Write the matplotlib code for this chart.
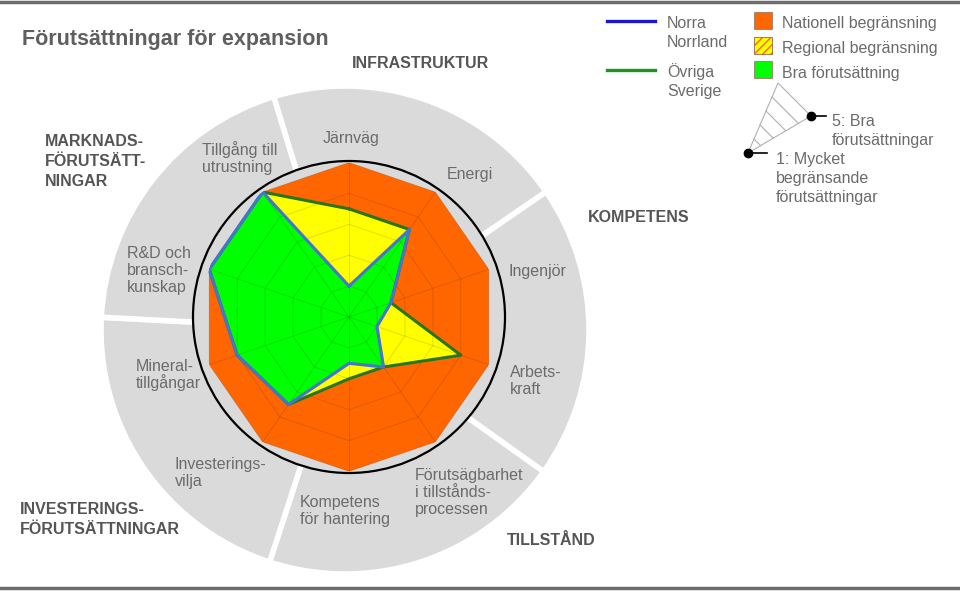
import numpy as np
import matplotlib.pyplot as plt
from matplotlib.patches import Wedge, Circle, Rectangle, Polygon

plt.rcParams['font.family'] = ['Liberation Sans', 'DejaVu Sans']

# --- data (radar, clockwise from top) ---
factors = ['Järnväg', 'Energi', 'Ingenjör', 'Arbets-\nkraft',
           'Förutsägbarhet\ni tillstånds-\nprocessen', 'Kompetens\nför hantering',
           'Investerings-\nvilja', 'Mineral-\ntillgångar',
           'R&D och\nbransch-\nkunskap', 'Tillgång till\nutrustning']
norra_norrland = [1, 3.5, 1.5, 1, 2, 1.5, 3.5, 4, 5, 5]
ovriga_sverige = [3.5, 3.5, 1.5, 4, 2, 2, 3.5, 4, 5, 5]
max_level = 5

groups = ['INFRASTRUKTUR', 'KOMPETENS', 'TILLSTÅND',
          'INVESTERINGS-\nFÖRUTSÄTTNINGAR', 'MARKNADS-\nFÖRUTSÄTT-\nNINGAR']

# --- layout (pixels, y down) ---
W, H = 960, 592
cx, cy = 349, 317          # radar centre
rx, ry = 147, 154.5        # radius of level 5, horizontal / vertical
pie_c, pie_r = (345, 330), 244
group_edges = [107, 34.5, -35.5, -108, -183, -253]   # visual degrees, ccw from +x
factor_pos = [(351, 137, 'center'), (470, 173, 'center'), (509, 270, 'left'),
              (510, 371, 'left'), (415, 474, 'left'), (300, 501, 'left'),
              (175, 463, 'left'), (136, 365, 'left'), (127, 252, 'left'),
              (202, 149, 'left')]
group_pos = [(352, 62), (588, 216), (507, 539), (20, 508), (45, 140)]

TXT = '#6b6b6b'
HEAD = '#555555'
GRAY = '#dadada'
ORANGE, YELLOW, GREEN = '#ff6600', '#ffff00', '#00ff00'

fig = plt.figure(figsize=(W / 100, H / 100), dpi=100)
bg = fig.add_axes([0, 0, 1, 1])
bg.set_xlim(0, W)
bg.set_ylim(H, 0)
bg.axis('off')


def label(x, y, text, pitch=17, size=11.5, **kw):
    # y is the visual centre of the first line
    for i, line in enumerate(text.split('\n')):
        bg.text(x, y + i * pitch + 0.36 * size * 100 / 72, line, va='baseline',
                fontsize=size, **kw)


# frame lines
bg.plot([0, W], [2, 2], color='#6d6d6d', lw=2.5)
bg.plot([0, W], [588, 588], color='#6d6d6d', lw=2.5)

# grey group sectors
for k in range(5):
    a2, a1 = group_edges[k], group_edges[k + 1]
    bg.add_patch(Wedge(pie_c, pie_r, -a2, -a1, facecolor=GRAY,
                       edgecolor='white', lw=4))
bg.add_patch(Circle((cx, cy), 156, facecolor=GRAY, edgecolor='black', lw=1.6))

# texts
label(22, 37, 'Förutsättningar för expansion', size=15.5, weight='bold',
      color='#5f5f5f')
for name, (x, y, ha) in zip(factors, factor_pos):
    label(x, y, name, pitch=17, ha=ha, color=TXT)
for name, (x, y) in zip(groups, group_pos):
    label(x, y, name, pitch=20, weight='bold', color=HEAD)

# legend
bg.plot([607, 655], [21, 21], color='#1a1acc', lw=2.4)
bg.plot([607, 655], [70, 70], color='#1a961a', lw=2.4)
label(667, 22, 'Norra\nNorrland', pitch=19.5, color=TXT)
label(667, 71, 'Övriga\nSverige', pitch=19.5, color=TXT)
bg.add_patch(Rectangle((754, 12), 18, 17, facecolor=ORANGE, edgecolor='#9a7a6a', lw=0.6))
bg.add_patch(Rectangle((754, 37), 18, 17, facecolor=YELLOW, edgecolor=ORANGE,
                       hatch='////', lw=0.6))
bg.add_patch(Rectangle((754, 37), 18, 17, facecolor='none', edgecolor='#9a7a6a', lw=0.6))
bg.add_patch(Rectangle((754, 61), 18, 17, facecolor=GREEN, edgecolor='#9a7a6a', lw=0.6))
label(782, 22, 'Nationell begränsning', color=TXT)
label(782, 47, 'Regional begränsning', color=TXT)
label(782, 72, 'Bra förutsättning', color=TXT)

apex = np.array([748, 153])
top_pt = np.array([778, 83])
right_pt = np.array([811, 116])
bg.add_patch(Polygon([apex, top_pt, right_pt], closed=True, facecolor='none',
                     edgecolor='#b0b0b0', lw=0.8))
for f in [0.2, 0.4, 0.6, 0.8]:
    p, q = apex + f * (top_pt - apex), apex + f * (right_pt - apex)
    bg.plot([p[0], q[0]], [p[1], q[1]], color='#b0b0b0', lw=0.8)
bg.plot([right_pt[0], 826], [right_pt[1], right_pt[1]], color='black', lw=1.2)
bg.plot([apex[0], 767], [apex[1], apex[1]], color='black', lw=1.2)
bg.plot([right_pt[0], apex[0]], [right_pt[1], apex[1]], 'o', color='black', ms=6)
label(832, 120, '5: Bra\nförutsättningar', pitch=19.3, color=TXT)
label(776, 158, '1: Mycket\nbegränsande\nförutsättningar', pitch=19.3, color=TXT)

# radar
ax = fig.add_axes([(cx - rx) / W, (H - cy - ry) / H, 2 * rx / W, 2 * ry / H],
                  projection='polar')
ax.set_aspect('auto')
ax.set_theta_zero_location('N')
ax.set_theta_direction(-1)
ax.set_ylim(0, max_level)
ax.axis('off')

n = len(factors)
theta = np.linspace(0, 2 * np.pi, n, endpoint=False)
tc = np.append(theta, theta[0])


def closed(v):
    return np.append(v, v[0])


ax.fill(theta, [max_level] * n, color=ORANGE, lw=0)
ax.fill(theta, ovriga_sverige, color=YELLOW, lw=0)
ax.fill(theta, norra_norrland, color=GREEN, lw=0)
for lev in range(1, max_level + 1):
    ax.plot(tc, [lev] * (n + 1), color='black', alpha=0.12, lw=0.7)
for t in theta:
    ax.plot([t, t], [0, max_level], color='black', alpha=0.12, lw=0.7)
ax.plot(tc, closed(ovriga_sverige), color='#27761f', lw=2.2)
ax.plot(tc, closed(norra_norrland), color='#4575d0', lw=2.2)

fig.savefig('out.png', dpi=100)
